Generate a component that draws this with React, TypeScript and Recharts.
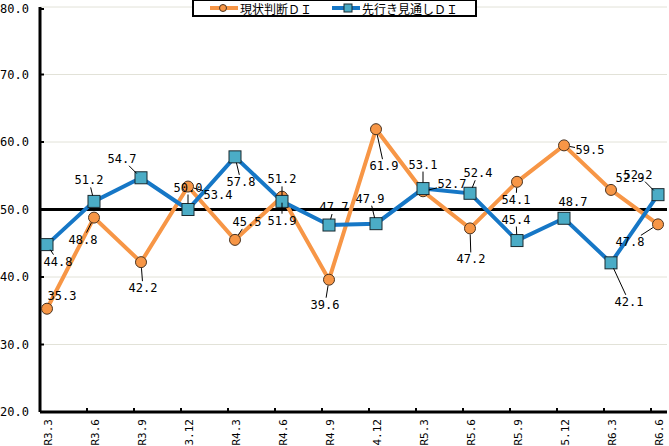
import React from 'react';
import { LineChart, Line, XAxis, YAxis, CartesianGrid, ReferenceLine, LabelList, Legend } from 'recharts';

const categories = ['R3.3', 'R3.6', 'R3.9', 'R3.12', 'R4.3', 'R4.6', 'R4.9', 'R4.12', 'R5.3', 'R5.6', 'R5.9', 'R5.12', 'R6.3', 'R6.6'];
const currentDI = [35.3, 48.8, 42.2, 53.4, 45.5, 51.9, 39.6, 61.9, 52.7, 47.2, 54.1, 59.5, 52.9, 47.8];
const outlookDI = [44.8, 51.2, 54.7, 50.0, 57.8, 51.2, 47.7, 47.9, 53.1, 52.4, 45.4, 48.7, 42.1, 52.2];
const yTicks = [20, 30, 40, 50, 60, 70, 80];
const seriesNames = ['現状判断ＤＩ', '先行き見通しＤＩ'];

// label placement (layout only): offset of label centre from its point, px
const curLabelOffsets = [[15, -13], [-11, 22], [2, 26], [30, 8], [12, -18], [0, 24], [-4, 25], [8, 37], [29, -7], [1, 31], [-1, 18], [26, 5], [19, -12], [-28, 18]];
const outLabelOffsets = [[11, 17], [-5, -21], [-19, -19], [0, -22], [6, 25], [0, -22], [5, -18], [-6, -25], [0, -24], [8, -20], [-1, -21], [9, -16], [18, 39], [-20, -20]];

const data = categories.map((c, i) => ({ cat: c, cur: currentDI[i], out: outlookDI[i] }));

const MONO = '"DejaVu Sans Mono", "Liberation Mono", monospace';
const CJK = '"Noto Sans CJK JP", "Noto Sans", sans-serif';
const ORANGE = '#F79646';
const BLUE = '#1677C6';
const TEAL = '#4BACC6';

const makeLabel = (offsets: number[][]) => (p: any) => {
  const { x, y, index, value } = p;
  if (x == null || y == null) return null;
  const [dx, dy] = offsets[index];
  const lx = x + dx;
  const ly = y + dy;
  const len = Math.sqrt(dx * dx + dy * dy);
  let leader = null;
  if (len > 0) {
    const hw = 15, hh = 7;
    const s = Math.min(dx !== 0 ? hw / Math.abs(dx) : Infinity, dy !== 0 ? hh / Math.abs(dy) : Infinity);
    const ex = lx - dx * s;
    const ey = ly - dy * s;
    const sx = x + (dx / len) * 6;
    const sy = y + (dy / len) * 6;
    const segLen = len * (1 - s) - 6;
    if (s < 1 && segLen > 5) {
      leader = <line x1={sx} y1={sy} x2={ex} y2={ey} stroke="#000" strokeWidth={1} />;
    }
  }
  return (
    <g key={`lbl-${index}`}>
      {leader}
      <text x={lx} y={ly} textAnchor="middle" dominantBaseline="central" fontFamily={MONO} fontSize={12} fill="#000">
        {Number(value).toFixed(1)}
      </text>
    </g>
  );
};

const CircleDot = (p: any) => {
  const { cx, cy, index } = p;
  if (cx == null || cy == null) return null;
  return <circle key={`c-${index}`} cx={cx} cy={cy} r={5.5} fill={ORANGE} stroke="#4a3320" strokeWidth={1} />;
};

const SquareDot = (p: any) => {
  const { cx, cy, index } = p;
  if (cx == null || cy == null) return null;
  return <rect key={`s-${index}`} x={cx - 6} y={cy - 6} width={12} height={12} fill={TEAL} stroke="#1a2a30" strokeWidth={1} />;
};

const YTick = (p: any) => {
  const { x, y, payload } = p;
  return (
    <g>
      <line x1={x} x2={x + 4} y1={y} y2={y} stroke="#000" strokeWidth={2} />
      <text x={x - 11} y={y} textAnchor="end" dominantBaseline="central" fontFamily={MONO} fontSize={12} fill="#000">
        {Number(payload.value).toFixed(1)}
      </text>
    </g>
  );
};

const XTick = (p: any) => {
  const { x, y, payload, index } = p;
  const ty = y + 7;
  const tx = x + 1;
  return (
    <g>
      {index > 0 && <line x1={x - 7} x2={x - 7} y1={y} y2={y - 4} stroke="#000" strokeWidth={2} />}
      <text x={tx} y={ty} transform={`rotate(-90, ${tx}, ${ty})`} textAnchor="end" dominantBaseline="central" fontFamily={MONO} fontSize={11} fill="#000">
        {payload.value}
      </text>
    </g>
  );
};

const LegendBox = () => (
  <div style={{ boxSizing: 'border-box', width: 285, height: 18, border: '2px solid #000', background: '#fff', position: 'relative', fontFamily: CJK, fontSize: 12, lineHeight: '14px', color: '#000' }}>
    <svg width={285} height={18} style={{ position: 'absolute', left: -2, top: -2 }}>
      <line x1={18} x2={46} y1={9} y2={9} stroke={ORANGE} strokeWidth={4} />
      <circle cx={31} cy={9} r={3.5} fill={ORANGE} stroke="#4a3320" strokeWidth={1} />
      <text x={48} y={9} dominantBaseline="central" fontFamily={CJK} fontSize={12}>{seriesNames[0]}</text>
      <line x1={140} x2={168} y1={9} y2={9} stroke={BLUE} strokeWidth={4} />
      <rect x={152} y={5} width={8} height={8} fill={TEAL} stroke="#1a2a30" strokeWidth={1} />
      <text x={170} y={9} dominantBaseline="central" fontFamily={CJK} fontSize={12}>{seriesNames[1]}</text>
    </svg>
  </div>
);

export default function App() {
  return (
    <div style={{ position: 'absolute', left: 0, top: 0, width: 669, height: 446, background: '#fff' }}>
      <LineChart width={669} height={446} data={data} margin={{ top: 7, right: 2, bottom: 0, left: 0 }}>
        <CartesianGrid vertical={false} stroke="#e2e2d8" strokeWidth={1} />
        <XAxis
          dataKey="cat"
          scale="point"
          padding={{ left: 7, right: 9 }}
          height={34}
          tickSize={0}
          tickMargin={0}
          tickLine={false}
          interval={0}
          axisLine={{ stroke: '#000', strokeWidth: 3 }}
          tick={<XTick />}
        />
        <YAxis
          domain={[20, 80]}
          ticks={yTicks}
          width={40}
          tickSize={0}
          tickMargin={0}
          tickLine={false}
          axisLine={{ stroke: '#000', strokeWidth: 3 }}
          tick={<YTick />}
          allowDataOverflow
        />
        <ReferenceLine y={50} stroke="#000" strokeWidth={3} ifOverflow="extendDomain" />
        <Legend
          layout="vertical"
          align="center"
          verticalAlign="middle"
          wrapperStyle={{ position: 'absolute', top: -1, left: 192, width: 285, height: 18 }}
          content={() => <LegendBox />}
        />
        <Line
          type="linear"
          dataKey="cur"
          name={seriesNames[0]}
          stroke={ORANGE}
          strokeWidth={4}
          dot={(p: any) => <CircleDot {...p} key={`cd-${p.index}`} />}
          activeDot={false}
          isAnimationActive={false}
        >
          <LabelList dataKey="cur" content={makeLabel(curLabelOffsets)} />
        </Line>
        <Line
          type="linear"
          dataKey="out"
          name={seriesNames[1]}
          stroke={BLUE}
          strokeWidth={4}
          dot={(p: any) => <SquareDot {...p} key={`sd-${p.index}`} />}
          activeDot={false}
          isAnimationActive={false}
        >
          <LabelList dataKey="out" content={makeLabel(outLabelOffsets)} />
        </Line>
      </LineChart>
    </div>
  );
}
